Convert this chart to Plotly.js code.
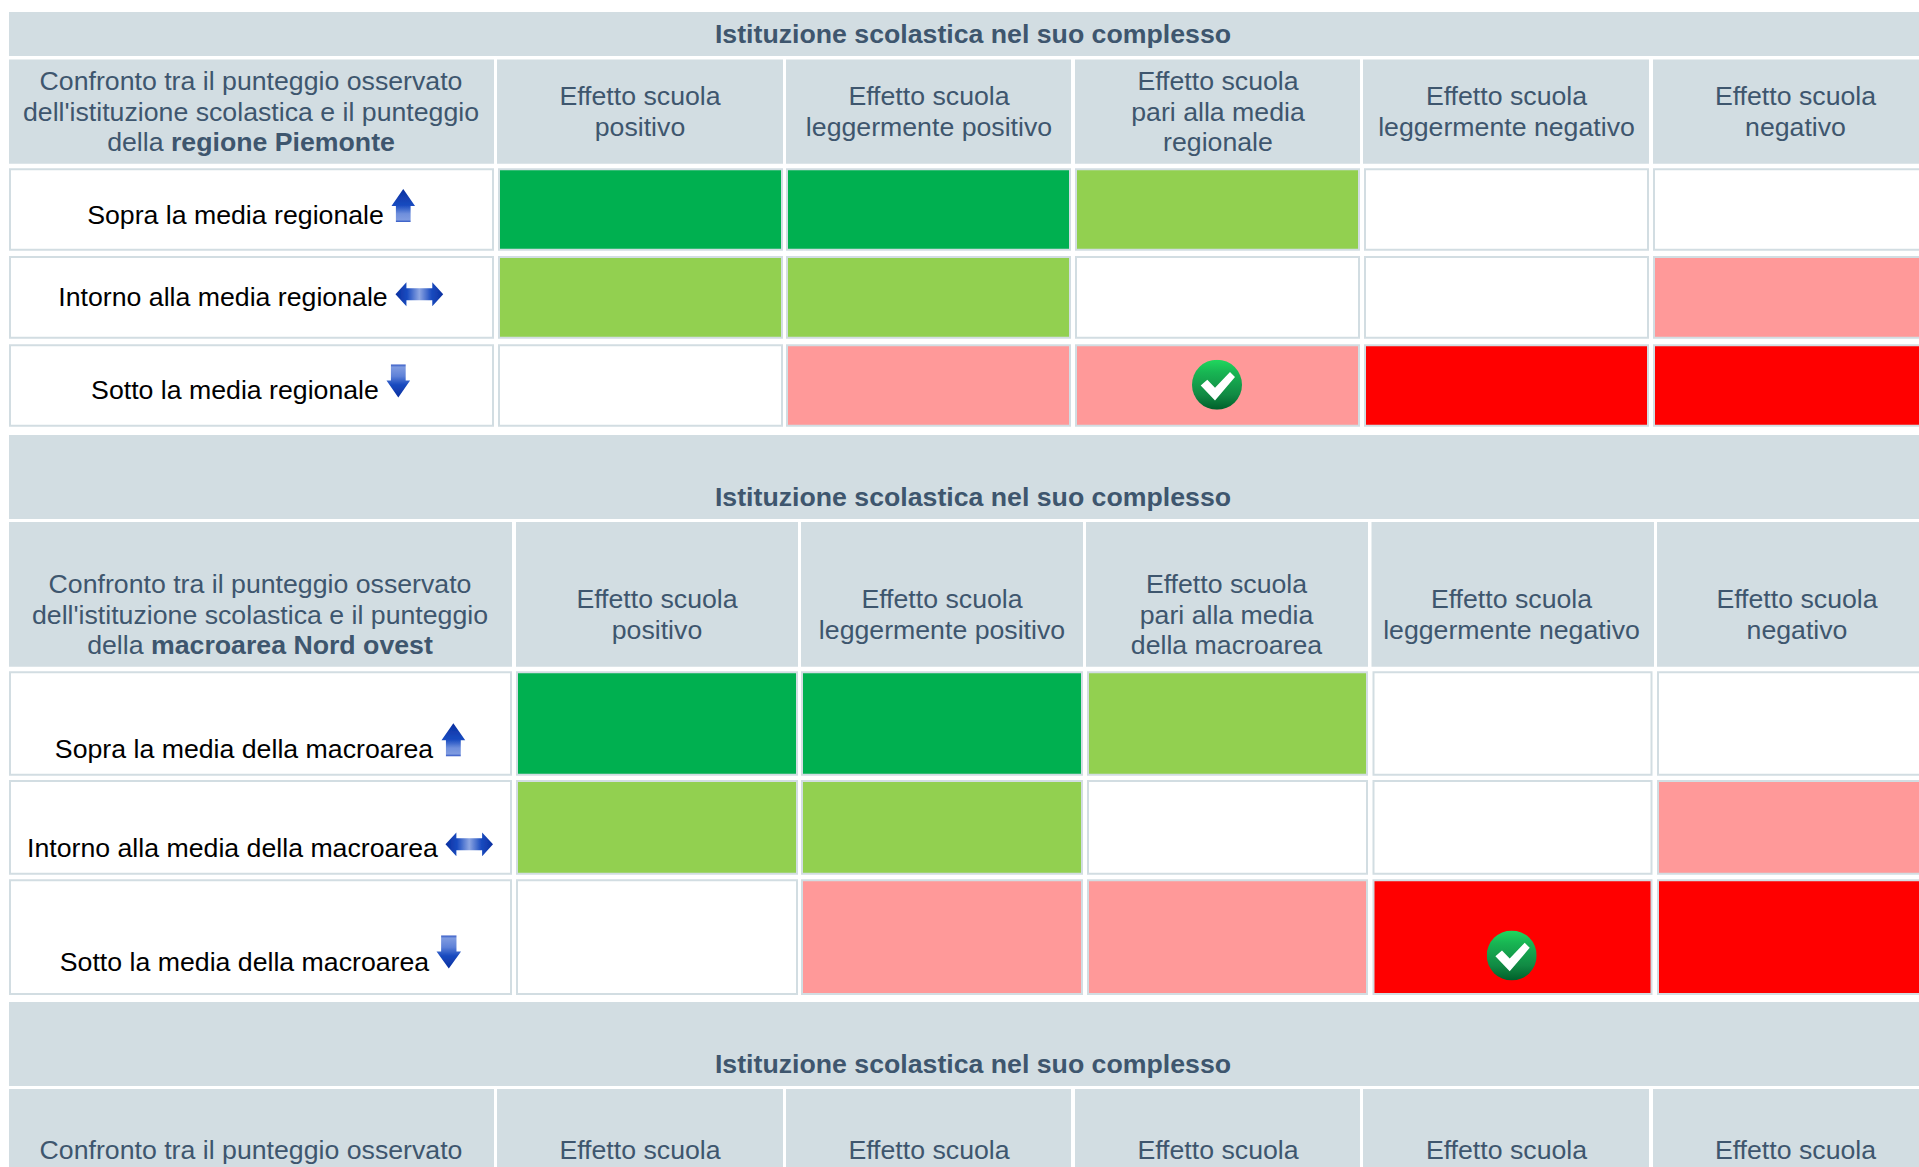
<!DOCTYPE html>
<html><head><meta charset="utf-8">
<script src="https://cdn.plot.ly/plotly-3.0.1.min.js"></script>
<style>html,body{margin:0;padding:0;background:#fff;overflow:hidden}</style>
</head><body><div id="chart" style="width:1919px;height:1167px"></div>
<script>
// ---- data ----
const tableTitle = "Istituzione scolastica nel suo complesso";
const cornerRegion = ["Confronto tra il punteggio osservato","dell'istituzione scolastica e il punteggio","della <b>regione Piemonte</b>"];
const cornerMacro  = ["Confronto tra il punteggio osservato","dell'istituzione scolastica e il punteggio","della <b>macroarea Nord ovest</b>"];
const effectsRegion = [["Effetto scuola","positivo"],["Effetto scuola","leggermente positivo"],["Effetto scuola","pari alla media","regionale"],["Effetto scuola","leggermente negativo"],["Effetto scuola","negativo"]];
const effectsMacro  = [["Effetto scuola","positivo"],["Effetto scuola","leggermente positivo"],["Effetto scuola","pari alla media","della macroarea"],["Effetto scuola","leggermente negativo"],["Effetto scuola","negativo"]];
const rowsRegion = ["Sopra la media regionale","Intorno alla media regionale","Sotto la media regionale"];
const rowsMacro  = ["Sopra la media della macroarea","Intorno alla media della macroarea","Sotto la media della macroarea"];
// 2 = strong green, 1 = light green, 0 = empty, -1 = light red, -2 = red
const gridRegion = [[2,2,1,0,0],[1,1,0,0,-1],[0,-1,-1,-2,-2]];
const gridMacro  = [[2,2,1,0,0],[1,1,0,0,-1],[0,-1,-1,-2,-2]];

// ---- styles & geometry ----
const palette = {"2":"#00B050","1":"#92D050","0":"#FFFFFF","-1":"#FF9999","-2":"#FF0000"};
const BAND="#D2DDE2", HEAD="#3E566E", FS=26.7, TEXT_DY=2;
const geomRegion = {
  band:[12,56], head:[59.5,163.7], rows:[[168.3,250.7],[256,338.7],[344.3,426.7]],
  corner:[9,494], cols:[[497,783],[786,1071],[1075,1360],[1363,1649],[1653,1938]],
  cellCols:[[498,783],[786,1071],[1075,1360],[1364,1649],[1653,1938]],
  titleY:34.5, lineY3:[81.7,112.3,142.7], lineY2:[96.7,127.3],
  cornerCx:251, colCx:[640,929,1218,1506.5,1795.5],
  rowCx:[235.5,223,235], rowY:[215,297.7,390.7],
  check:[1217,384.7]
};
const geomMacro = {
  band:[435,519], head:[522,666.7], rows:[[671.3,775.7],[780,874.7],[879.3,995]],
  corner:[9,512], cols:[[516,798],[801,1083],[1086,1368],[1371.5,1654],[1657,1940]],
  cellCols:[[516,798],[801,1083],[1087,1368],[1372.5,1652.5],[1657,1940]],
  titleY:497.5, lineY3:[584.3,615,645.7], lineY2:[599.2,630.6],
  cornerCx:260, colCx:[657,942,1226.5,1511.5,1797],
  rowCx:[244,232.5,244.5], rowY:[749,848.3,962.7],
  check:[1511.7,955.5]
};
const geomThird = { band:[1002,1086], head:[1089,1190], titleY:1064, lineY:1150.7 };

function enc(s){return "data:image/svg+xml;base64,"+btoa(s);}
const soft=`<filter id="b" x="-10%" y="-10%" width="120%" height="120%"><feGaussianBlur stdDeviation="0.45"/></filter>`;
const upIcon = enc(`<svg xmlns="http://www.w3.org/2000/svg" viewBox="-1 -1 26 36" preserveAspectRatio="none"><defs>${soft}<linearGradient id="g" x1="0" y1="0" x2="0" y2="1"><stop offset="0" stop-color="#0a2fa0"/><stop offset=".5" stop-color="#1a4cc0"/><stop offset=".75" stop-color="#6f8fdc"/><stop offset=".93" stop-color="#7f9be0"/><stop offset="1" stop-color="#2f55c4"/></linearGradient></defs><path d="M12 0L24 17.5H19.5V34H4.5V17.5H0Z" fill="url(#g)" filter="url(#b)"/></svg>`);
const downIcon = enc(`<svg xmlns="http://www.w3.org/2000/svg" viewBox="-1 -1 26 36" preserveAspectRatio="none"><defs>${soft}<linearGradient id="g" x1="0" y1="0" x2="0" y2="1"><stop offset="0" stop-color="#2f55c4"/><stop offset=".08" stop-color="#7f9be0"/><stop offset=".35" stop-color="#5f82d8"/><stop offset=".6" stop-color="#1a4cc0"/><stop offset="1" stop-color="#0a2fa0"/></linearGradient></defs><path d="M4.5 0H19.5V16.5H24L12 34L0 16.5H4.5Z" fill="url(#g)" filter="url(#b)"/></svg>`);
const lrIcon = enc(`<svg xmlns="http://www.w3.org/2000/svg" viewBox="-1 -1 50 27" preserveAspectRatio="none"><defs>${soft}<linearGradient id="g" x1="0" y1="0" x2="1" y2="0"><stop offset="0" stop-color="#0a2fa0"/><stop offset=".25" stop-color="#1a4cc0"/><stop offset=".5" stop-color="#8ea6e2"/><stop offset=".75" stop-color="#1a4cc0"/><stop offset="1" stop-color="#0a2fa0"/></linearGradient></defs><path d="M0 12.5L11 0V6.2H37V0L48 12.5L37 25V18.8H11V25Z" fill="url(#g)" filter="url(#b)"/></svg>`);
const checkIcon = enc(`<svg xmlns="http://www.w3.org/2000/svg" viewBox="0 0 50 50"><defs><linearGradient id="g" x1="0" y1="0" x2="0" y2="1"><stop offset="0" stop-color="#20d85e"/><stop offset=".25" stop-color="#18b553"/><stop offset=".7" stop-color="#118a44"/><stop offset="1" stop-color="#005f2a"/></linearGradient></defs><circle cx="25" cy="25" r="25" fill="url(#g)"/><path d="M8.7 25.7L15.3 20L23 28L38 12.3L43 17.3L23 40.7Z" fill="#fff"/></svg>`);

// ---- assemble marks ----
const bx=[],bw=[],bb=[],bh=[],bc=[],bl=[],blw=[];
function rect(x0,x1,y0,y1,fill,line){
  const inset=line?1:0;
  bx.push((x0+x1)/2); bw.push(x1-x0-2*inset); bb.push(y0+inset); bh.push(y1-y0-2*inset);
  bc.push(fill); bl.push(line||fill); blw.push(line?2:0);
}
const txt={title:{x:[],y:[],t:[]},head:{x:[],y:[],t:[]},row:{x:[],y:[],t:[]}};
function put(k,x,y,t){txt[k].x.push(x);txt[k].y.push(y+TEXT_DY);txt[k].t.push(t);}

function buildTable(g,corner,effects,rowNames,grid){
  rect(9,1960,g.band[0],g.band[1],BAND);
  put("title",973,g.titleY,tableTitle);
  rect(g.corner[0],g.corner[1],g.head[0],g.head[1],BAND);
  corner.forEach((t,i)=>put("head",g.cornerCx,g.lineY3[i],t));
  g.cols.forEach((c,j)=>{
    rect(c[0],c[1],g.head[0],g.head[1],BAND);
    const ys=effects[j].length===3?g.lineY3:g.lineY2;
    effects[j].forEach((t,i)=>put("head",g.colCx[j],ys[i],t));
  });
  g.rows.forEach((r,i)=>{
    rect(g.corner[0],g.corner[1],r[0],r[1],"#FFFFFF",BAND);
    put("row",g.rowCx[i],g.rowY[i],rowNames[i]);
    g.cellCols.forEach((c,j)=>rect(c[0],c[1],r[0],r[1],palette[grid[i][j]],BAND));
  });
}
buildTable(geomRegion,cornerRegion,effectsRegion,rowsRegion,gridRegion);
buildTable(geomMacro,cornerMacro,effectsMacro,rowsMacro,gridMacro);
// third table: only its top is inside the page
rect(9,1960,geomThird.band[0],geomThird.band[1],BAND);
put("title",973,geomThird.titleY,tableTitle);
rect(geomRegion.corner[0],geomRegion.corner[1],geomThird.head[0],geomThird.head[1],BAND);
put("head",geomRegion.cornerCx,geomThird.lineY,cornerRegion[0]);
geomRegion.cols.forEach((c,j)=>{
  rect(c[0],c[1],geomThird.head[0],geomThird.head[1],BAND);
  put("head",geomRegion.colCx[j],geomThird.lineY,effectsRegion[j][0]);
});

function textTrace(k,color,bold){
  return {type:"scatter",mode:"text",x:txt[k].x,y:txt[k].y,
    text:txt[k].t.map(t=>bold?`<b>${t}</b>`:t),textposition:"middle center",
    textfont:{family:"Liberation Sans, Arial, sans-serif",size:FS,color:color},
    hoverinfo:"skip",showlegend:false,cliponaxis:true};
}
const traces=[
  {type:"bar",x:bx,y:bh,base:bb,width:bw,marker:{color:bc,line:{color:bl,width:blw}},hoverinfo:"skip",showlegend:false},
  textTrace("title",HEAD,true),textTrace("head",HEAD,false),textTrace("row","#000000",false)
];
function img(src,x0,y0,w,h){return {source:src,xref:"x",yref:"y",x:x0,y:y0,sizex:w,sizey:h,sizing:"stretch",xanchor:"left",yanchor:"top",layer:"above"};}
const images=[
  img(upIcon,390.5,188,25.5,35),img(lrIcon,394.5,281.2,49.7,26),img(downIcon,385.5,363.5,25.6,35),
  img(upIcon,440.5,722.2,25.7,35),img(lrIcon,444.5,831.5,49.5,25.7),img(downIcon,435.5,934.5,26.6,35),
  img(checkIcon,geomRegion.check[0]-25,geomRegion.check[1]-25,50,50),
  img(checkIcon,geomMacro.check[0]-25,geomMacro.check[1]-25,50,50)
];
const axis={visible:false,showgrid:false,zeroline:false,fixedrange:true};
Plotly.newPlot("chart",traces,{
  width:1919,height:1167,margin:{l:0,r:0,t:0,b:0},
  paper_bgcolor:"#fff",plot_bgcolor:"#fff",barmode:"overlay",showlegend:false,
  xaxis:Object.assign({range:[0,1919],type:"linear"},axis),
  yaxis:Object.assign({range:[1167,0],type:"linear"},axis),
  images:images
},{staticPlot:true,displayModeBar:false});
</script></body></html>
